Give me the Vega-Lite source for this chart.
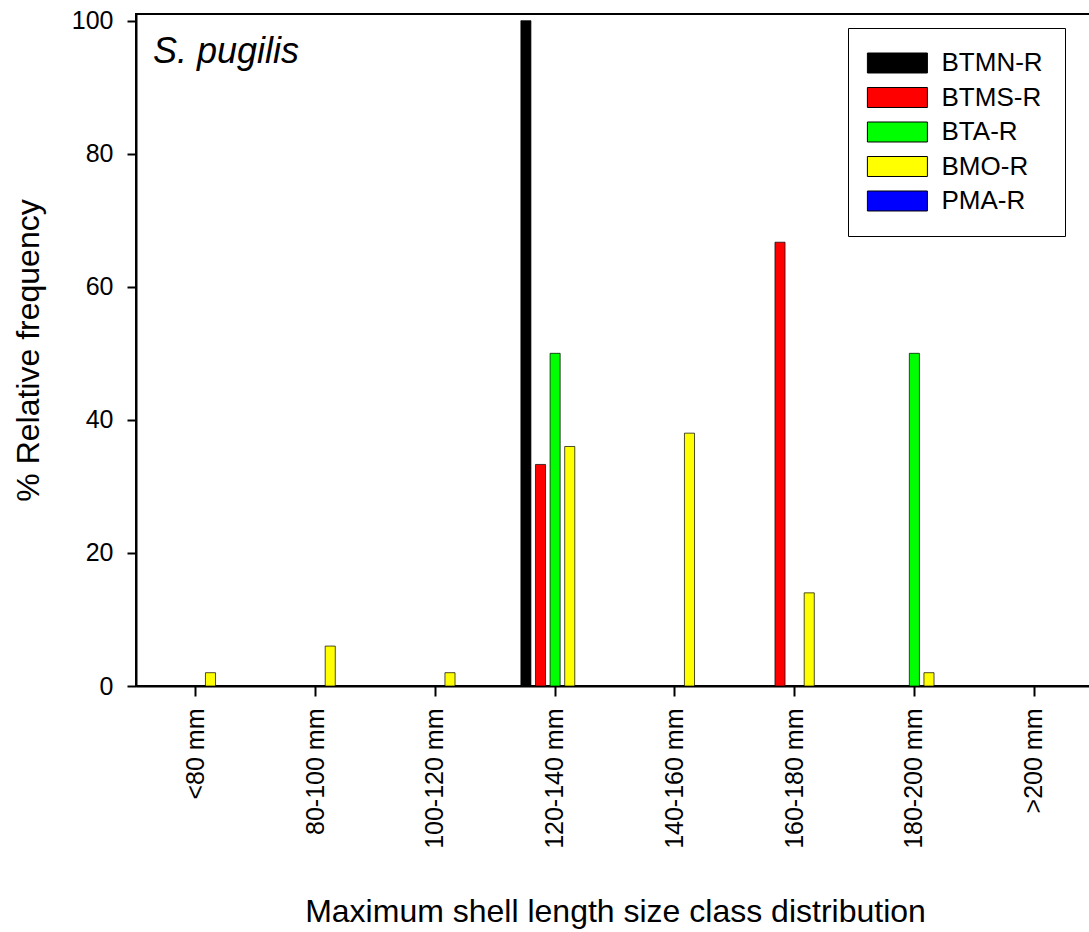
{
  "$schema": "https://vega.github.io/schema/vega-lite/v6.json",
  "autosize": "none",
  "width": 958,
  "height": 672,
  "padding": {"left": 136, "top": 14, "right": 0, "bottom": 246},
  "background": "white",
  "data": {
    "values": [
      {"size": "<80 mm", "site": "BMO-R", "freq": 2},
      {"size": "80-100 mm", "site": "BMO-R", "freq": 6},
      {"size": "100-120 mm", "site": "BMO-R", "freq": 2},
      {"size": "120-140 mm", "site": "BTMN-R", "freq": 100},
      {"size": "120-140 mm", "site": "BTMS-R", "freq": 33.3},
      {"size": "120-140 mm", "site": "BTA-R", "freq": 50},
      {"size": "120-140 mm", "site": "BMO-R", "freq": 36},
      {"size": "140-160 mm", "site": "BMO-R", "freq": 38},
      {"size": "160-180 mm", "site": "BTMS-R", "freq": 66.7},
      {"size": "160-180 mm", "site": "BMO-R", "freq": 14},
      {"size": "180-200 mm", "site": "BTA-R", "freq": 50},
      {"size": "180-200 mm", "site": "BMO-R", "freq": 2}
    ]
  },
  "title": {
    "text": "S. pugilis",
    "frame": "group",
    "anchor": "start",
    "orient": "none",
    "offset": 0,
    "dx": 17,
    "dy": 49,
    "baseline": "alphabetic",
    "font": "Liberation Sans",
    "fontStyle": "italic",
    "fontWeight": "normal",
    "fontSize": 36,
    "color": "black"
  },
  "mark": {"type": "bar", "stroke": "black", "strokeWidth": 1, "strokeOpacity": 0.7},
  "encoding": {
    "x": {
      "field": "size",
      "type": "nominal",
      "sort": ["<80 mm", "80-100 mm", "100-120 mm", "120-140 mm", "140-160 mm", "160-180 mm", "180-200 mm", ">200 mm"],
      "scale": {"domain": ["<80 mm", "80-100 mm", "100-120 mm", "120-140 mm", "140-160 mm", "160-180 mm", "180-200 mm", ">200 mm"], "paddingInner": 0.39, "paddingOuter": 0.195},
      "axis": {
        "title": "Maximum shell length size class distribution",
        "labelAngle": -90,
        "labelPadding": 12,
        "titlePadding": 48,
        "tickSize": 10
      }
    },
    "xOffset": {
      "field": "site",
      "type": "nominal",
      "scale": {"domain": ["BTMN-R", "BTMS-R", "BTA-R", "BMO-R", "PMA-R"], "paddingInner": 0.31, "paddingOuter": 0.155}
    },
    "y": {
      "field": "freq",
      "type": "quantitative",
      "scale": {"domain": [0, 101], "nice": false},
      "axis": {
        "title": "% Relative frequency",
        "values": [0, 20, 40, 60, 80, 100],
        "grid": false,
        "tickSize": 9,
        "labelPadding": 14,
        "titlePadding": 26
      }
    },
    "color": {
      "field": "site",
      "type": "nominal",
      "scale": {"domain": ["BTMN-R", "BTMS-R", "BTA-R", "BMO-R", "PMA-R"], "range": ["#000000", "#FF0000", "#00FF00", "#FFFF00", "#0000FF"]},
      "legend": {
        "title": null,
        "orient": "none",
        "legendX": 712,
        "legendY": 14,
        "strokeColor": "black",
        "fillColor": "white",
        "padding": 21.5,
        "symbolType": "M-1.2,-0.769H3.415V0.769H-1.2Z",
        "symbolSize": 676,
        "symbolStrokeColor": "black",
        "symbolStrokeWidth": 1,
        "symbolOpacity": 1,
        "labelOffset": 45,
        "labelFontSize": 26,
        "labelFont": "Liberation Sans",
        "labelColor": "black",
        "rowPadding": 7.5
      }
    }
  },
  "config": {
    "view": {"stroke": "black", "strokeWidth": 2},
    "axis": {
      "domainColor": "black",
      "domainWidth": 2,
      "tickColor": "black",
      "tickWidth": 2,
      "labelFont": "Liberation Sans",
      "labelFontSize": 25,
      "labelColor": "black",
      "titleFont": "Liberation Sans",
      "titleFontSize": 32,
      "titleFontWeight": "normal",
      "titleColor": "black"
    }
  }
}
